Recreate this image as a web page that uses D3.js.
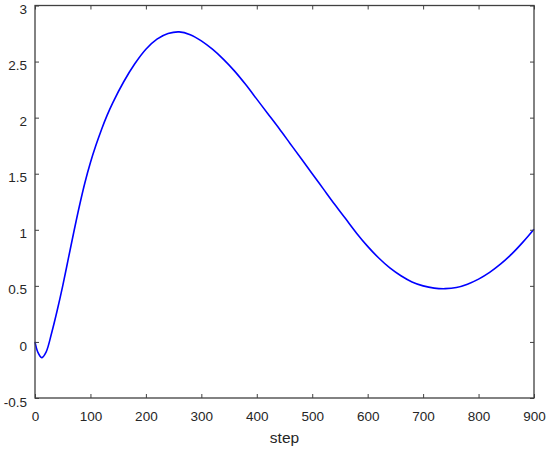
<!DOCTYPE html>
<html><head><meta charset="utf-8">
<script src="https://cdn.jsdelivr.net/npm/d3@7"></script>
<style>body{margin:0;background:#fff}svg{display:block}</style>
</head><body>
<svg id="c" width="550" height="452"></svg>
<script>
const steps = [0,5,12,20,30,40,50,60,70,80,90,100,110,120,130,140,160,180,200,220,240,260,280,300,320,340,360,380,400,420,440,460,480,500,520,540,560,580,600,620,640,660,680,700,720,740,760,780,800,820,840,860,880,900];
const values = [0,-0.09,-0.14,-0.09,0.08,0.28,0.5,0.74,0.98,1.21,1.42,1.6,1.755,1.895,2.02,2.13,2.32,2.48,2.61,2.7,2.75,2.765,2.74,2.685,2.61,2.52,2.415,2.295,2.165,2.035,1.905,1.77,1.635,1.5,1.365,1.23,1.1,0.97,0.852,0.748,0.66,0.59,0.535,0.5,0.48,0.475,0.485,0.515,0.56,0.62,0.695,0.785,0.89,1.005];
const xTicks = [0,100,200,300,400,500,600,700,800,900];
const yTicks = [-0.5,0,0.5,1,1.5,2,2.5,3];
const xLabel = "step";

const svg = d3.select("#c");
const L=35, R=534, T=5.5, B=398;
const x = d3.scaleLinear().domain([0,900]).range([L,R]);
const y = d3.scaleLinear().domain([-0.5,3]).range([B,T]);
const axisColor = "#404040";
const font = "Liberation Sans, Arial, sans-serif";

const line = d3.line().x((d,i)=>x(steps[i])).y(d=>y(d)).curve(d3.curveCatmullRom.alpha(0.5));
svg.append("path").datum(values).attr("d",line).attr("fill","none").attr("stroke","#0000ff").attr("stroke-width",1.6);

function style(g){
  g.select(".domain").remove();
  g.selectAll(".tick line").attr("stroke",axisColor).attr("stroke-width",1);
  g.selectAll(".tick text").attr("fill","#262626").style("font-family",font).style("font-size","13.5px");
}
const fmt = d=>String(d);
svg.append("g").attr("transform",`translate(0,${B})`).call(d3.axisBottom(x).tickValues(xTicks).tickSize(-4).tickPadding(13).tickFormat(fmt)).call(style);
svg.append("g").attr("transform",`translate(0,${T})`).call(d3.axisTop(x).tickValues(xTicks).tickSize(-4).tickFormat("")).call(style);
const ya = svg.append("g").attr("transform",`translate(${L},0)`).call(d3.axisLeft(y).tickValues(yTicks).tickSize(-4).tickPadding(8).tickFormat(fmt)).call(style);
ya.selectAll(".tick text").attr("dy","0.6em");
svg.append("g").attr("transform",`translate(${R},0)`).call(d3.axisRight(y).tickValues(yTicks).tickSize(-4).tickFormat("")).call(style);

svg.append("rect").attr("x",L).attr("y",T).attr("width",R-L).attr("height",B-T).attr("fill","none").attr("stroke",axisColor).attr("stroke-width",1.3);

svg.append("text").attr("x",(L+R)/2).attr("y",443).attr("text-anchor","middle").attr("fill","#262626").style("font-family",font).style("font-size","15.5px").text(xLabel);
</script>
</body></html>
